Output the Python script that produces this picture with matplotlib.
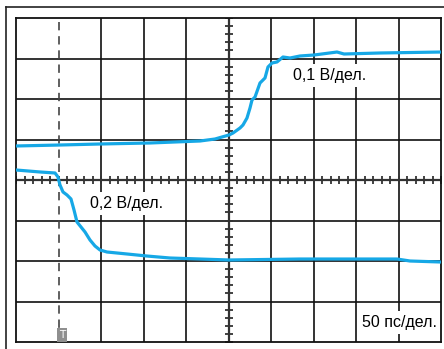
import numpy as np
import matplotlib.pyplot as plt
from matplotlib.lines import Line2D
from matplotlib.patches import Rectangle

# screen coordinates in divisions: 10 horizontal, 8 vertical
n_xdiv = 10
n_ydiv = 8
cursor_x = 1.0

# upper trace, 0,1 V/div
upper_x = [0, 1.035, 1.976, 3.153, 4.329, 4.682, 4.847, 5.012, 5.106, 5.271, 5.341, 5.435,
           5.506, 5.553, 5.624, 5.741, 5.859, 5.929, 6.024, 6.141, 6.282, 6.447, 6.682,
           7.012, 7.553, 7.718, 8.565, 10.0]
upper_y = [4.840, 4.864, 4.889, 4.914, 4.963, 5.012, 5.062, 5.111, 5.160, 5.284, 5.358, 5.531,
           5.778, 5.975, 6.049, 6.395, 6.519, 6.790, 6.889, 6.914, 7.037, 7.012, 7.062,
           7.086, 7.160, 7.111, 7.136, 7.160]

# lower trace, 0,2 V/div
lower_x = [0, 0.565, 0.918, 0.988, 1.035, 1.106, 1.2, 1.294, 1.365, 1.435, 1.529, 1.624,
           1.741, 1.859, 1.976, 2.141, 2.612, 3.082, 3.624, 5.012, 6.682, 8.965, 9.271, 10.0]
lower_y = [4.247, 4.198, 4.173, 4.074, 3.877, 3.704, 3.630, 3.531, 3.259, 2.963, 2.840, 2.716,
           2.519, 2.370, 2.272, 2.222, 2.173, 2.123, 2.074, 2.025, 2.049, 2.049, 2.0, 1.975]

labels = ["0,1 В/дел.", "0,2 В/дел.", "50 пс/дел."]

W, H = 444, 349
fig = plt.figure(figsize=(W / 100, H / 100), dpi=100)
ax = fig.add_axes([16 / W, 1 - 342 / H, (441 - 16) / W, (342 - 18) / H])
ax.set_xlim(0, n_xdiv)
ax.set_ylim(0, n_ydiv)
ax.set_xticks([])
ax.set_yticks([])
for s in ax.spines.values():
    s.set_color('#111111')
    s.set_linewidth(1.3)

# outer frame (left and top edges)
fig.add_artist(Line2D([6 / W, 6 / W], [0, 1 - 7 / H], color='#222222', lw=1.2))
fig.add_artist(Line2D([6 / W, 1], [1 - 7 / H, 1 - 7 / H], color='#222222', lw=1.2))

# graticule
for i in range(1, n_xdiv):
    if i == cursor_x:
        continue
    if i == n_xdiv // 2:
        ax.axvline(i, color='#333333', lw=1.6, zorder=1)
    else:
        ax.axvline(i, color='#111111', lw=1.2, zorder=1)
for j in range(1, n_ydiv):
    if j == n_ydiv // 2:
        ax.axhline(j, color='#333333', lw=1.6, zorder=1)
    else:
        ax.axhline(j, color='#111111', lw=1.2, zorder=1)

# minor ticks on the centre lines
tx = np.arange(0, n_xdiv + 0.01, 0.2)
ty = np.arange(0, n_ydiv + 0.01, 0.2)
ax.plot(tx, np.full_like(tx, n_ydiv / 2), ls='none', marker='|', ms=6, mew=1.3, color='#333333', zorder=1)
ax.plot(np.full_like(ty, n_xdiv / 2), ty, ls='none', marker='_', ms=6, mew=1.3, color='#333333', zorder=1)

# trigger cursor with its "T" tag
ax.axvline(cursor_x, color='#444444', lw=1.2, dashes=(5, 3.5), zorder=1)
ax.add_patch(Rectangle((cursor_x - 0.03, 0), 0.22, 0.35, fc='#8f8f8f', ec='none', zorder=4))
ax.text(cursor_x + 0.08, 0.17, "T", fontsize=7.5, color='white', ha='center', va='center', zorder=5)

# traces
ax.plot(upper_x, upper_y, color='#16a8e6', lw=2.3, solid_capstyle='round', solid_joinstyle='round', zorder=3)
ax.plot(lower_x, lower_y, color='#16a8e6', lw=2.3, solid_capstyle='round', solid_joinstyle='round', zorder=3)

box = dict(boxstyle='square,pad=0.25', fc='white', ec='none')
ax.text(6.52, 6.57, labels[0], fontsize=11.5, family='Liberation Sans', va='center', ha='left', bbox=box, zorder=2)
ax.text(1.74, 3.43, labels[1], fontsize=11.5, family='Liberation Sans', va='center', ha='left', bbox=box, zorder=2)
ax.text(8.14, 0.49, labels[2], fontsize=11.5, family='Liberation Sans', va='center', ha='left', bbox=box, zorder=2)

fig.savefig("out.png", dpi=100)
